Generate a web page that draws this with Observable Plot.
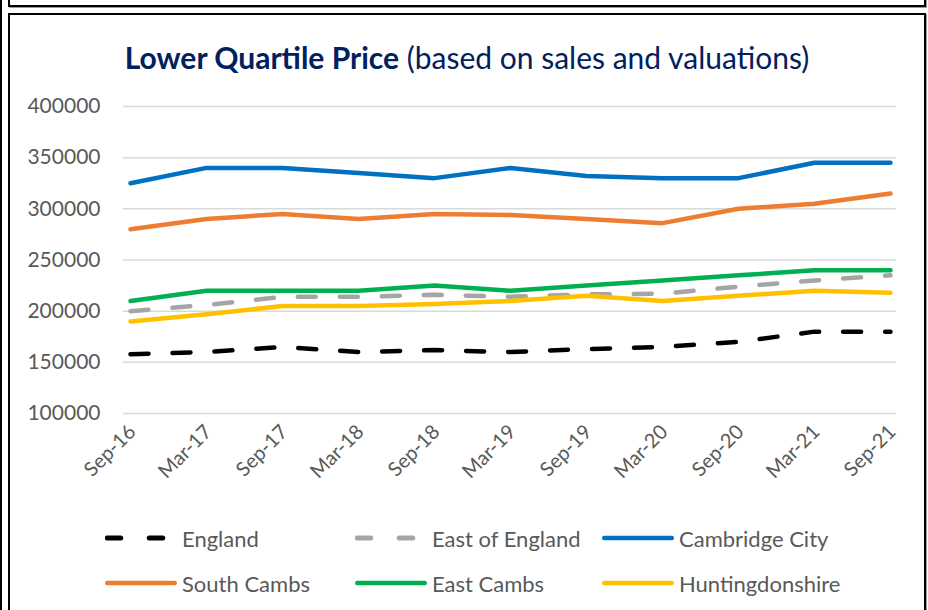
<!DOCTYPE html>
<html><head><meta charset="utf-8">
<script src="https://cdn.jsdelivr.net/npm/d3@7"></script>
<script src="https://cdn.jsdelivr.net/npm/@observablehq/plot@0.6"></script>
<style>
body{margin:0;background:#fff;font-family:Lato,"Open Sans",sans-serif;}
#wrap{position:relative;width:928px;height:610px;overflow:hidden;background:#fff;}
#chart{position:absolute;left:0;top:80px;}
.box{position:absolute;border:2px solid #000;box-sizing:border-box;box-shadow:1px 1px 0 #999;}
#outer{position:absolute;left:0;top:0;width:2px;height:610px;background:#000;}
#title{position:absolute;left:8px;width:918px;top:39px;height:36px;line-height:36px;text-align:center;color:#002060;font-size:30px;white-space:nowrap;}
#title b{font-weight:700;}
.leg{position:absolute;height:30px;display:flex;align-items:center;color:#595959;font-size:22px;white-space:nowrap;}
.leg svg{margin-right:5px;}
</style></head><body><div id="wrap">
<div id="chart"></div>
<div id="title"><b>Lower Quartile Price</b> (based on sales and valuations)</div>
<div id="legend"></div>
<div id="outer"></div>
<div class="box" style="left:8px;top:-20px;width:918px;height:27px;"></div>
<div class="box" style="left:8px;top:13px;width:918px;height:640px;"></div>
</div>
<script>
const periods = ["Sep-16","Mar-17","Sep-17","Mar-18","Sep-18","Mar-19","Sep-19","Mar-20","Sep-20","Mar-21","Sep-21"];
const seriesNames = ["England","East of England","Cambridge City","South Cambs","East Cambs","Huntingdonshire"];
const england         = [158000,160000,165000,160000,162000,160000,163000,165000,170000,180000,180000];
const eastOfEngland   = [200000,206000,214000,214000,216000,214000,216500,217000,224000,230000,235000];
const cambridgeCity   = [325000,340000,340000,335000,330000,340000,332000,330000,330000,345000,345000];
const southCambs      = [280000,290000,295000,290000,295000,294000,290000,286000,300000,305000,315000];
const eastCambs       = [210000,220000,220000,220000,225000,220000,225000,230000,235000,240000,240000];
const huntingdonshire = [190000,197000,205000,205000,207000,210000,215000,210000,215000,220000,218000];
const yTicks = [100000,150000,200000,250000,300000,350000,400000];

const colors = ["#000000","#A5A5A5","#0070C0","#ED7D31","#00B050","#FFC000"];
const dashed = [true,true,false,false,false,false];
const valuesBySeries = [england,eastOfEngland,cambridgeCity,southCambs,eastCambs,huntingdonshire];

const data = seriesNames.flatMap((s,i)=>periods.map((p,j)=>({series:s,period:p,value:valuesBySeries[i][j]})));

const marks = [
  Plot.gridY(yTicks,{stroke:"#D9D9D9",strokeOpacity:1,strokeWidth:1.5}),
  Plot.axisY(yTicks,{tickFormat:d=>String(d),tickSize:0,tickPadding:23,label:null}),
  Plot.axisX({tickRotate:-45,tickSize:0,tickPadding:15,dx:2,fontSize:20,label:null})
];
seriesNames.forEach((s,i)=>{
  const opts = {x:"period",y:"value",stroke:colors[i],strokeWidth:4.5,strokeLinecap:"round",strokeLinejoin:"round"};
  if (dashed[i]) opts.strokeDasharray = "18,24";
  marks.push(Plot.line(data.filter(d=>d.series===s),opts));
});

const chart = Plot.plot({
  width:928, height:423, marginTop:26, marginBottom:90, marginLeft:123, marginRight:32,
  x:{type:"point",domain:periods,padding:0,inset:5},
  y:{domain:[100000,400000]},
  style:{fontFamily:"Lato, 'Open Sans', sans-serif",fontSize:"21px",color:"#595959",background:"transparent",overflow:"visible"},
  marks
});
document.getElementById("chart").appendChild(chart);

// legend
const legCols = [105,355,602];
const legRows = [538,583];
const legend = document.getElementById("legend");
seriesNames.forEach((s,i)=>{
  const div = document.createElement("div");
  div.className = "leg";
  div.style.left = legCols[i%3] + "px";
  div.style.top = (legRows[Math.floor(i/3)] - 15) + "px";
  const svg = d3.create("svg").attr("width",72).attr("height",10);
  svg.append("line").attr("x1",2.25).attr("x2",69.75).attr("y1",5).attr("y2",5)
    .attr("stroke",colors[i]).attr("stroke-width",dashed[i]?5:4.5).attr("stroke-linecap","round")
    .attr("stroke-dasharray",dashed[i]?"13.5,28.5":null);
  div.appendChild(svg.node());
  const span = document.createElement("span");
  span.textContent = s;
  div.appendChild(span);
  legend.appendChild(div);
});
</script>
</body></html>
